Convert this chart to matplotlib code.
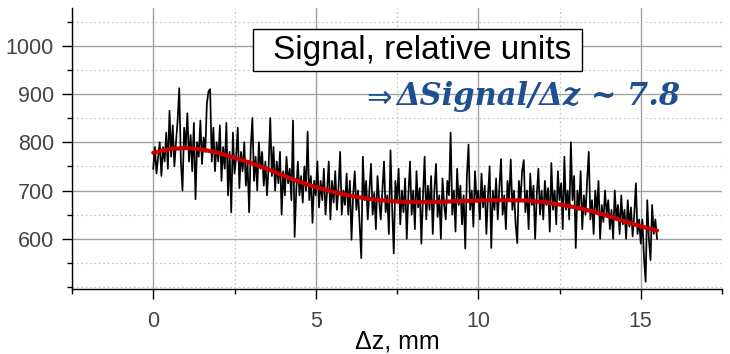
import numpy as np
import matplotlib.pyplot as plt
from matplotlib.patches import Rectangle
from matplotlib.ticker import MultipleLocator

# measured signal, one value every 0.05 mm (rows = 1 mm)
signal = [
    745, 790, 735, 770, 800, 730, 790, 760, 820, 745, 865, 770, 835, 750, 800, 845, 912, 760, 700, 830,
    790, 860, 760, 815, 740, 840, 682, 800, 770, 845, 755, 810, 780, 880, 905, 910, 760, 830, 740, 800,
    760, 835, 720, 790, 745, 840, 690, 780, 655, 820, 735, 770, 830, 705, 780, 740, 800, 710, 760, 655,
    790, 850, 720, 770, 700, 800, 745, 780, 710, 760, 690, 750, 850, 730, 790, 700, 760, 715, 780, 650,
    740, 690, 770, 715, 745, 680, 845, 604, 700, 760, 690, 730, 675, 750, 700, 822, 680, 730, 633, 720,
    690, 760, 665, 720, 680, 745, 650, 700, 760, 640, 720, 675, 740, 660, 705, 780, 650, 700, 670, 735,
    650, 720, 598, 690, 740, 660, 700, 630, 560, 770, 680, 720, 640, 700, 755, 650, 695, 620, 730, 680,
    640, 700, 760, 655, 690, 610, 783, 665, 570, 720, 680, 745, 630, 700, 655, 725, 600, 690, 760, 650,
    700, 620, 740, 665, 705, 590, 690, 770, 640, 710, 660, 730, 610, 700, 755, 645, 690, 600, 725, 670,
    640, 720, 690, 820, 650, 700, 615, 745, 670, 710, 630, 690, 580, 730, 795, 660, 700, 625, 740, 680,
    700, 640, 735, 665, 710, 610, 690, 750, 581, 700, 660, 725, 640, 705, 765, 650, 690, 620, 720, 680,
    764, 660, 700, 630, 591, 720, 680, 740, 763, 655, 700, 620, 735, 670, 710, 600, 690, 745, 650, 700,
    640, 720, 670, 705, 615, 757, 660, 700, 630, 740, 680, 715, 620, 770, 660, 700, 640, 800, 680, 730,
    581, 700, 660, 740, 620, 690, 650, 720, 780, 640, 680, 610, 700, 655, 720, 600, 670, 635, 700, 650,
    680, 620, 660, 600, 700, 640, 670, 610, 690, 630, 660, 600, 680, 625, 665, 605, 650, 715, 610, 640,
    590, 640, 560, 511, 680, 600, 556, 670, 610, 640, 600,
]
z = np.arange(len(signal)) * 0.05

# smooth fit, one value every 0.5 mm
fit = [778, 786, 788, 785, 778, 768, 757, 745, 731, 718, 707, 698, 690, 684, 680, 677,
       676, 676, 677, 678, 679, 680, 680, 679, 676, 671, 665, 657, 647, 636, 626, 617]
z_fit = np.arange(len(fit)) * 0.5

fig = plt.figure(figsize=(7.3, 3.54), dpi=100)
ax = fig.add_axes([72/730, 1-289/354, 650/730, 281/354])

ax.plot(z, signal, color='black', lw=1.25, zorder=3)
ax.plot(z_fit, fit, color='#cc0000', lw=3.0, solid_capstyle='round', zorder=4)

ax.set_xlim(-2.5, 17.5)
ax.set_ylim(496, 1078)
ax.xaxis.set_minor_locator(MultipleLocator(2.5))
ax.yaxis.set_minor_locator(MultipleLocator(50))
ax.set_xticks([0, 5, 10, 15])
ax.set_yticks([600, 700, 800, 900, 1000])

ax.grid(which='major', color='#a0a0a0', lw=1.0, ls='-')
ax.grid(which='minor', color='#c8c8c8', lw=0.9, ls=(0, (1.5, 2)))
ax.set_axisbelow(True)

for s in ['top', 'right']:
    ax.spines[s].set_visible(False)
for s in ['left', 'bottom']:
    ax.spines[s].set_color('black')
    ax.spines[s].set_linewidth(1.0)

ax.tick_params(which='major', direction='out', length=7, width=1, colors='black',
               labelcolor='#444444', labelsize=15.5)
ax.tick_params(axis='x', which='major', pad=9)
ax.tick_params(axis='y', which='major', pad=6)
ax.tick_params(which='minor', direction='out', length=3.5, width=1, colors='black')
for lab in ax.get_xticklabels() + ax.get_yticklabels():
    lab.set_family('Liberation Sans')

# x axis title placed by hand so it stays inside the figure
fig.text(397/730, 1-349/354, '\u0394z, mm', fontsize=18, family='Liberation Sans',
         ha='center', va='baseline')

fig.patches.append(Rectangle((253/730, 1-71/354), 329/730, 42/354, transform=fig.transFigure,
                             fc='white', ec='black', lw=1.0, zorder=5))
fig.text(422/730, 1-50/354, 'Signal, relative units', fontsize=24, family='Liberation Sans',
         ha='center', va='center', zorder=6)
fig.text(366/730, 1-98/354, '\u21d2', fontsize=22, color='#1f4f8f', family='DejaVu Sans',
         ha='left', va='center')
fig.text(396/730, 1-97/354, '\u0394Signal/\u0394z ~ 7.8', fontsize=22, color='#1f4f8f',
         family='DejaVu Serif', weight='bold', style='italic', ha='left', va='center')

fig.savefig('out.png', dpi=100)
